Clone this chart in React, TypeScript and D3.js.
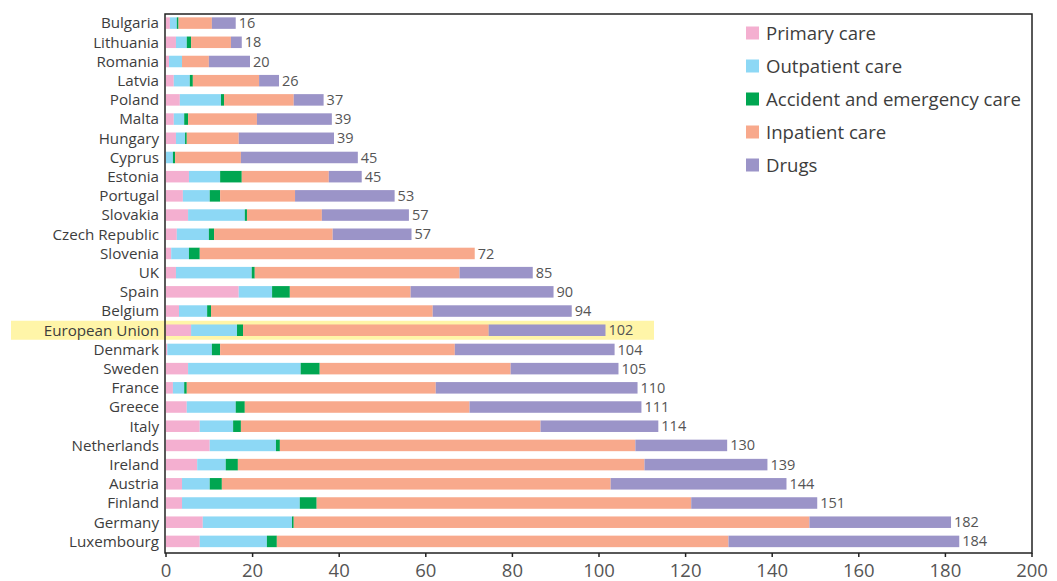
import React from "react";
import { scaleLinear, scaleBand, stack } from "d3";

const countries = [
  "Bulgaria", "Lithuania", "Romania", "Latvia", "Poland", "Malta", "Hungary",
  "Cyprus", "Estonia", "Portugal", "Slovakia", "Czech Republic", "Slovenia",
  "UK", "Spain", "Belgium", "European Union", "Denmark", "Sweden", "France",
  "Greece", "Italy", "Netherlands", "Ireland", "Austria", "Finland", "Germany",
  "Luxembourg",
];

const primary = [0.9, 2.3, 0.7, 1.8, 3.2, 1.8, 2.3, 0, 5.3, 3.9, 5.1, 2.5, 1.2, 2.3, 16.8, 3.0, 5.8, 0.3, 5.1, 1.6, 4.8, 7.8, 10.1, 7.2, 3.7, 3.7, 8.5, 7.8];
const outpatient = [1.6, 2.5, 3.0, 3.7, 9.5, 2.4, 2.1, 1.6, 7.2, 6.2, 13.1, 7.4, 4.1, 17.5, 7.7, 6.5, 10.6, 10.3, 26.0, 2.6, 11.3, 7.7, 15.3, 6.6, 6.4, 27.2, 20.6, 15.5];
const emergency = [0.4, 1.0, 0, 0.7, 0.7, 0.9, 0.4, 0.5, 5.0, 2.4, 0.5, 1.2, 2.5, 0.7, 4.1, 0.9, 1.4, 1.9, 4.4, 0.6, 2.1, 1.8, 0.9, 2.8, 2.8, 3.9, 0.4, 2.3];
const inpatient = [7.7, 9.2, 6.2, 15.3, 16.1, 15.9, 12.0, 15.2, 20.1, 17.3, 17.3, 27.4, 63.5, 47.3, 27.9, 51.2, 56.7, 54.2, 44.1, 57.5, 51.9, 69.2, 82.1, 93.9, 89.8, 86.5, 119.1, 104.3];
const drugs = [5.5, 2.5, 9.5, 4.6, 6.9, 17.3, 22.0, 27.0, 7.6, 23.0, 20.1, 18.2, 0, 16.9, 33.0, 32.1, 27.0, 36.9, 24.9, 46.6, 39.7, 27.2, 21.2, 28.4, 40.6, 29.1, 32.7, 53.3];
const totals = [16, 18, 20, 26, 37, 39, 39, 45, 45, 53, 57, 57, 72, 85, 90, 94, 102, 104, 105, 110, 111, 114, 130, 139, 144, 151, 182, 184];

const seriesKeys = ["primary", "outpatient", "emergency", "inpatient", "drugs"];
const seriesNames = ["Primary care", "Outpatient care", "Accident and emergency care", "Inpatient care", "Drugs"];
const seriesColors = ["#F4AFD0", "#8DD8F5", "#00A651", "#F8A98C", "#9B94C8"];
const xTicks = [0, 20, 40, 60, 80, 100, 120, 140, 160, 180, 200];

const W = 1057;
const H = 581;
const left = 166;
const right = 1032;
const top = 14;
const bottom = 553;
const font = "'Open Sans', sans-serif";

export default function App() {
  const rows = countries.map((c, i) => ({
    country: c,
    primary: primary[i],
    outpatient: outpatient[i],
    emergency: emergency[i],
    inpatient: inpatient[i],
    drugs: drugs[i],
    total: totals[i],
  }));

  const x = scaleLinear().domain([0, 200]).range([left, right]);
  const y = scaleBand().domain(countries).range([top - 0.5, bottom - 2]).paddingInner(0.4).paddingOuter(0.2);
  const layers = stack().keys(seriesKeys)(rows as any);

  const euY = y("European Union")!;

  return (
    <svg width={W} height={H} style={{ position: "absolute", left: 0, top: 0, background: "#fff" }}>
      {/* highlight band for the EU row */}
      <rect x={11} y={euY + y.bandwidth() / 2 - 9.5} width={643} height={19} fill="#FFF5A8" />

      {layers.map((layer, li) => (
        <g key={seriesKeys[li]} fill={seriesColors[li]}>
          {layer.map((d, i) => (
            <rect
              key={i}
              x={x(d[0])}
              y={y(countries[i])}
              width={Math.max(0, x(d[1]) - x(d[0]))}
              height={y.bandwidth()}
            />
          ))}
        </g>
      ))}

      {rows.map((r) => (
        <text
          key={r.country}
          x={left - 7}
          y={y(r.country)! + y.bandwidth() / 2}
          dy="0.35em"
          textAnchor="end"
          fontFamily={font}
          fontSize={15.2}
          fill="#3d3d3d"
        >
          {r.country}
        </text>
      ))}

      {rows.map((r, i) => {
        const end = layers[layers.length - 1][i][1];
        return (
          <text
            key={"v" + r.country}
            x={x(end) + 3}
            y={y(r.country)! + y.bandwidth() / 2}
            dy="0.35em"
            fontFamily={font}
            fontSize={14.5}
            fill="#555"
          >
            {r.total}
          </text>
        );
      })}

      {/* frame */}
      <rect x={left - 1} y={top} width={right - left + 1} height={bottom - top} fill="none" stroke="#222" strokeWidth={1.5} />

      {xTicks.map((t) => (
        <g key={t} transform={`translate(${x(t)},${bottom})`}>
          <line y1={0} y2={4} stroke="#222" strokeWidth={1.5} />
          <text y={24} textAnchor="middle" fontFamily={font} fontSize={18.5} fill="#555">
            {t}
          </text>
        </g>
      ))}

      {seriesNames.map((n, i) => (
        <g key={n} transform={`translate(746,${33 + i * 33})`}>
          <rect x={0} y={-6.5} width={13} height={13} fill={seriesColors[i]} />
          <text x={20} dy="0.35em" fontFamily={font} fontSize={18.6} fill="#3d3d3d">
            {n}
          </text>
        </g>
      ))}
    </svg>
  );
}
